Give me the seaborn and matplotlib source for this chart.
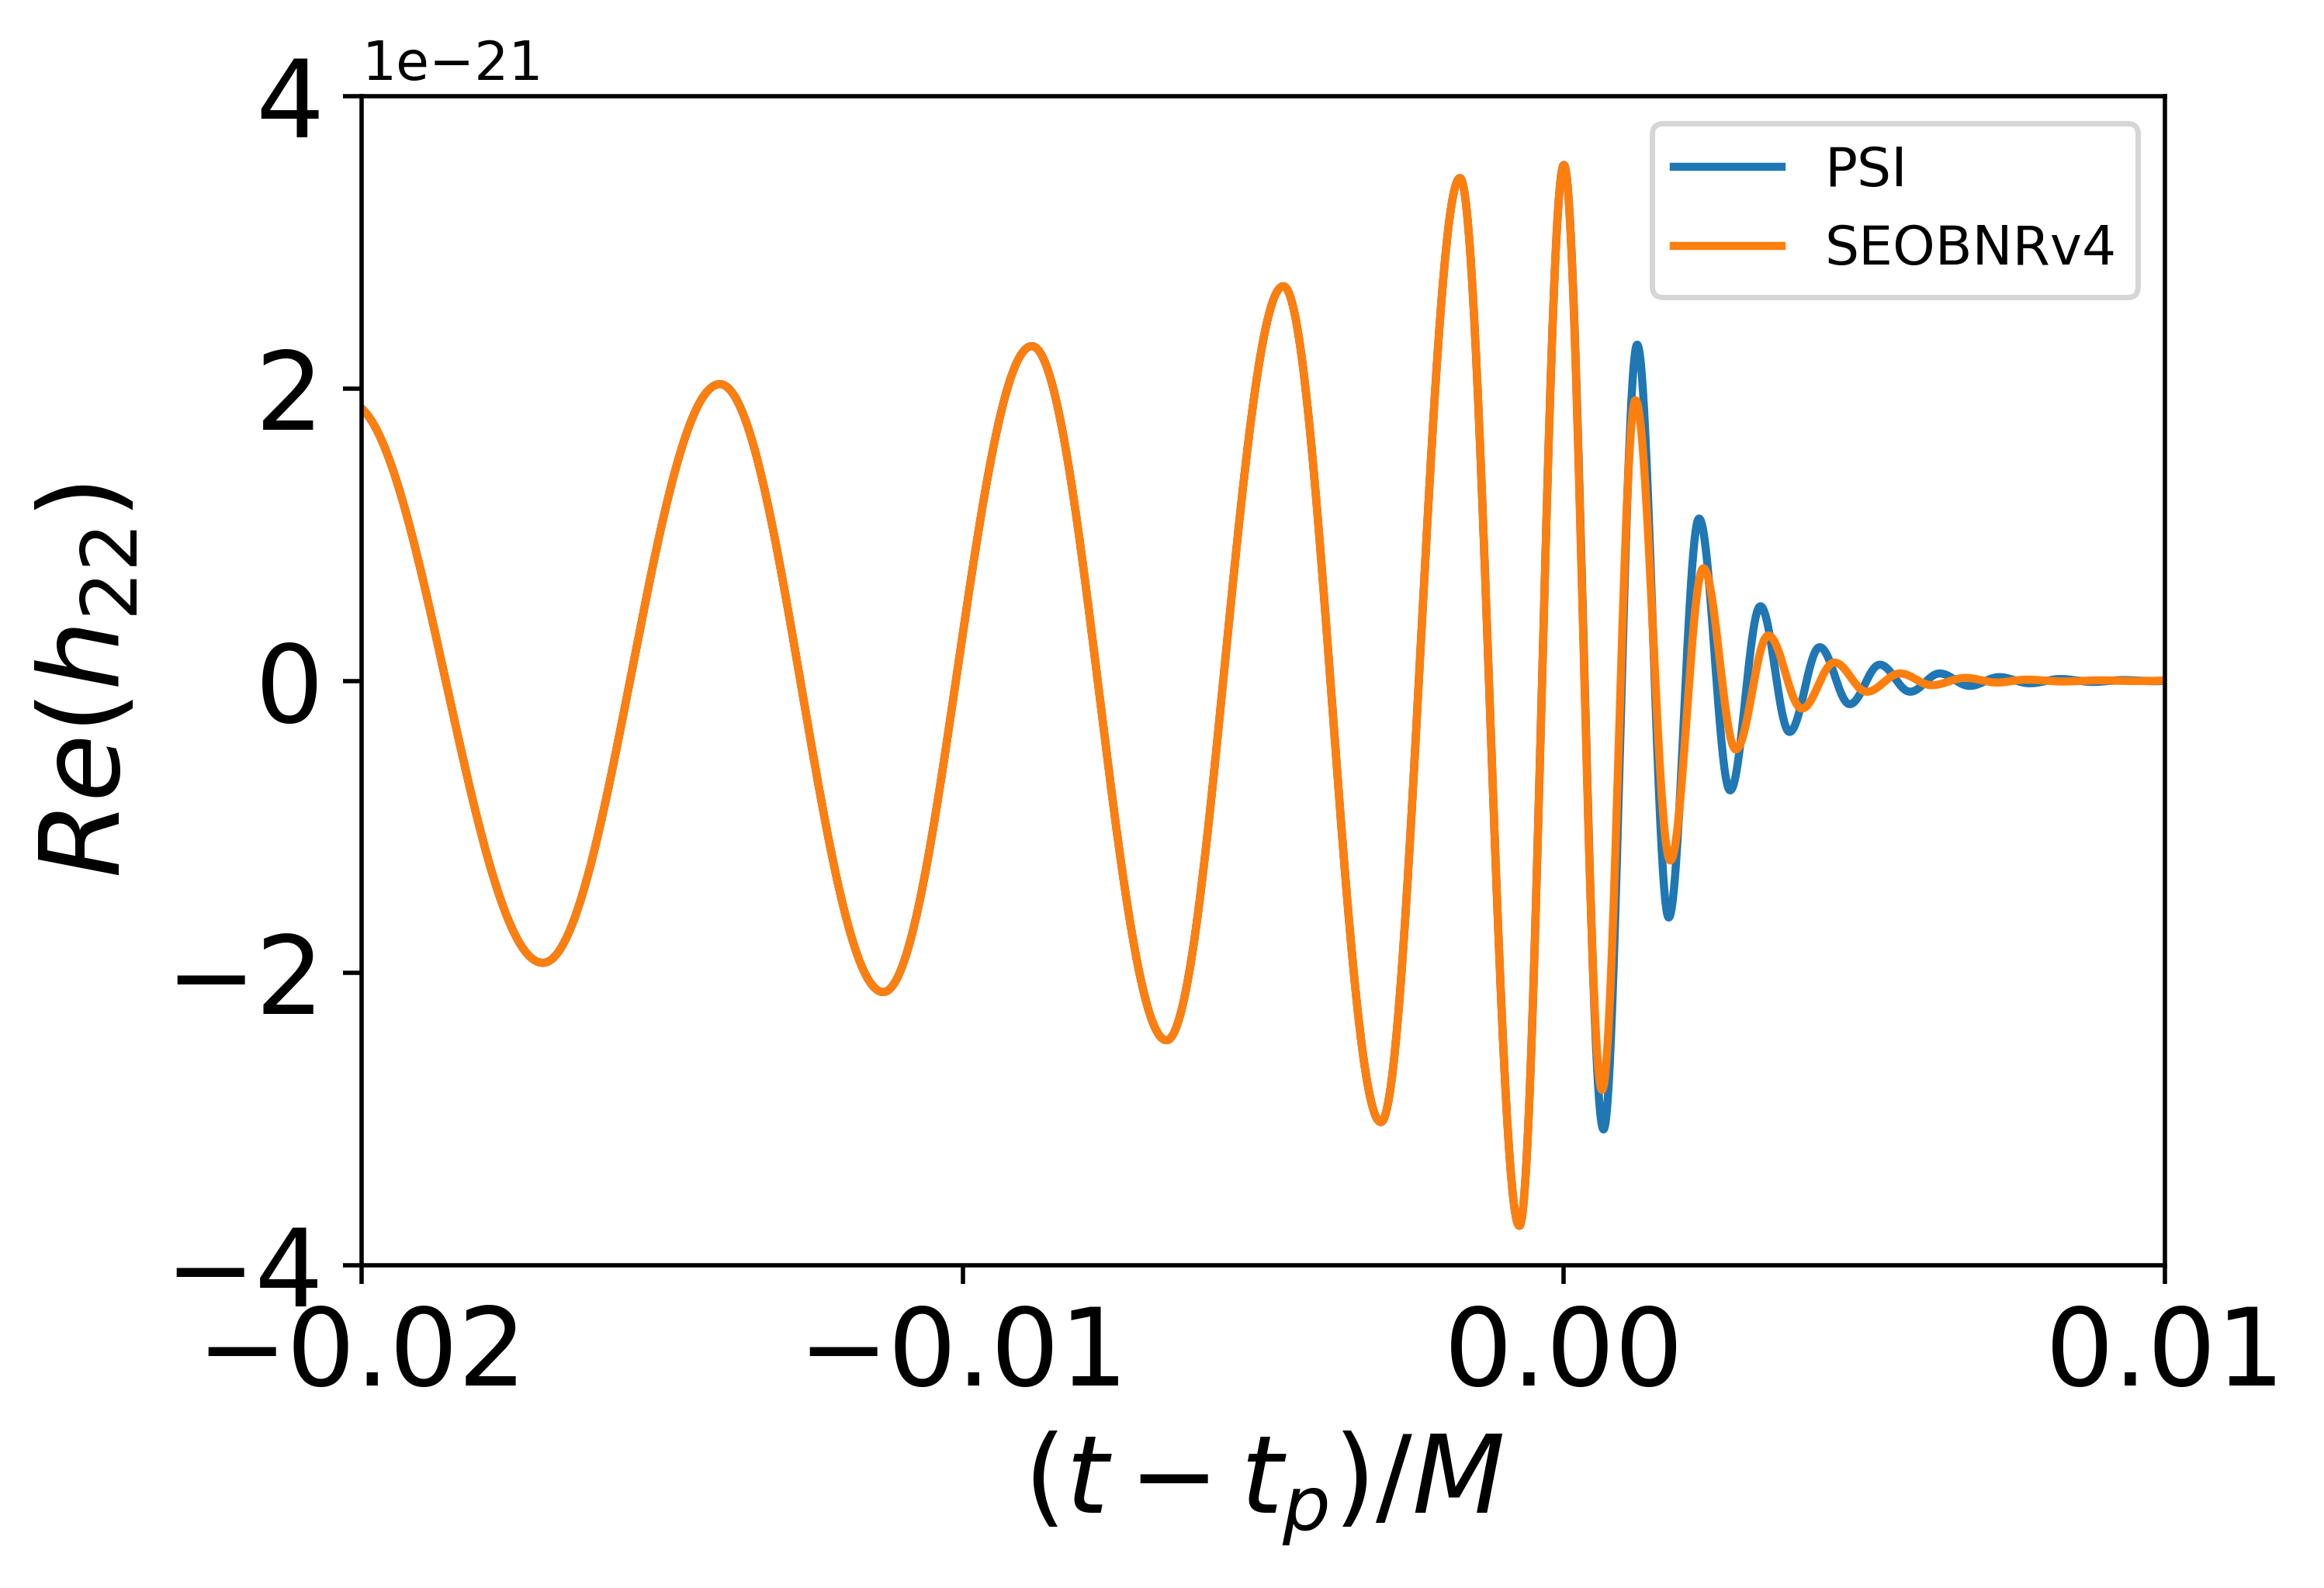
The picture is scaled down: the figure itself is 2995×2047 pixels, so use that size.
import numpy as np
import pandas as pd
import matplotlib
matplotlib.use("Agg")
import matplotlib.pyplot as plt
import seaborn as sns

# extrema (t in units of M, strain in units of 1e-21)
t_inspiral = [-0.0202, -0.016985, -0.01404, -0.011322, -0.00885, -0.00661,
              -0.004667, -0.003044, -0.001728, -0.00074, 0.0]
h_inspiral = [1.90, -1.93, 2.03, -2.13, 2.29, -2.46, 2.70, -3.02, 3.44, -3.73, 3.53]

t_psi = [0.000659, 0.001219, 0.001744, 0.002248, 0.002766, 0.003269, 0.003753,
         0.004255, 0.004755, 0.005255, 0.00576, 0.00625, 0.00675, 0.00724,
         0.00775, 0.00826, 0.0088, 0.0093, 0.0098, 0.0103]
h_psi = [-3.07, 2.30, -1.62, 1.11, -0.75, 0.51, -0.35, 0.23, -0.16, 0.11,
         -0.075, 0.05, -0.035, 0.025, -0.017, 0.012, -0.008, 0.005, -0.003, 0.002]

t_eob = [0.000634, 0.00119, 0.00177, 0.00232, 0.00286, 0.0034, 0.00396, 0.0045,
         0.00504, 0.00559, 0.00612, 0.00668, 0.0072, 0.0077, 0.0083, 0.0089,
         0.0095, 0.0101]
h_eob = [-2.80, 1.92, -1.23, 0.77, -0.47, 0.31, -0.19, 0.125, -0.075, 0.05,
         -0.03, 0.02, -0.012, 0.008, -0.005, 0.003, -0.002, 0.001]


def trace(tk, hk, n=120):
    # half-cosine arcs from one extremum to the next
    ts, hs = [], []
    for i in range(len(tk) - 1):
        s = np.linspace(0, 1, n, endpoint=False)
        ts.append(tk[i] + s * (tk[i + 1] - tk[i]))
        hs.append((hk[i] + hk[i + 1]) / 2 + (hk[i] - hk[i + 1]) / 2 * np.cos(np.pi * s))
    ts.append([tk[-1]])
    hs.append([hk[-1]])
    return np.concatenate(ts), np.concatenate(hs) * 1e-21


t1, h1 = trace(t_inspiral + t_psi, h_inspiral + h_psi)
t2, h2 = trace(t_inspiral + t_eob, h_inspiral + h_eob)
df_psi = pd.DataFrame({"t": t1, "h": h1})
df_eob = pd.DataFrame({"t": t2, "h": h2})

fig = plt.figure(figsize=(5.99, 4.094), dpi=500)
ax = fig.add_axes([0.1556, 0.2032, 0.776, 0.7362])

sns.lineplot(data=df_psi, x="t", y="h", ax=ax, color="#1f77b4", label="PSI",
             estimator=None, sort=False, linewidth=1.5)
sns.lineplot(data=df_eob, x="t", y="h", ax=ax, color="#ff7f0e", label="SEOBNRv4",
             estimator=None, sort=False, linewidth=1.5)

ax.set_xlim(-0.02, 0.01)
ax.set_ylim(-4e-21, 4e-21)
ax.set_xticks([-0.02, -0.01, 0.0, 0.01])
ax.set_yticks([-4e-21, -2e-21, 0, 2e-21, 4e-21])
ax.tick_params(labelsize=20)
ax.yaxis.get_offset_text().set_fontsize(10)
ax.set_xlabel(r"$(t-t_p)/M$", fontsize=20)
ax.set_ylabel(r"$Re(h_{22})$", fontsize=20.5)
ax.legend(loc="upper right", fontsize=10)

fig.savefig("out.png", dpi=500)
